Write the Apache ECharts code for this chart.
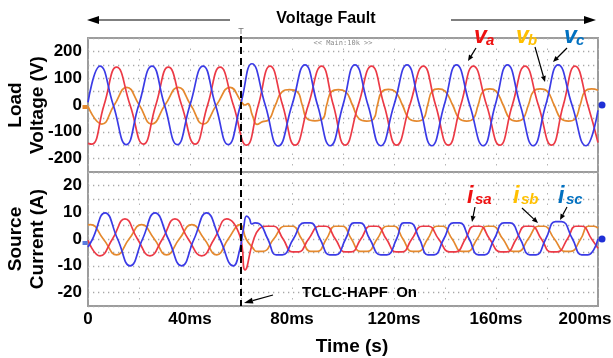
<!DOCTYPE html>
<html>
<head>
<meta charset="utf-8">
<script src="https://cdn.jsdelivr.net/npm/echarts@6/dist/echarts.min.js"></script>
<style>
  html, body { margin: 0; padding: 0; background: #fff; }
  #chart { width: 613px; height: 358px; }
</style>
</head>
<body>
<div id="chart"></div>
<script>
// Time base in ms; one division = 20 ms (one 50 Hz cycle)
const timeTicks = [0, 40, 80, 120, 160, 200];
const voltTicks = [-200, -100, 0, 100, 200];
const currTicks = [-20, -10, 0, 10, 20];
const faultTime = 60; // TCLC-HAPF switched on

// Load voltages, [time ms, volts]
const vaLoad = [
  [0,-143],[1.4,-146],[6.3,0],[11.2,141],[16.5,0],[21.7,-146],[26.6,0],[31.5,141],[36.7,0],[42,-146],
  [46.9,0],[51.8,141],[57,0],[62.2,-150],[66.8,0],[71.4,145],[76.3,0],[81.2,-150],[86.4,0],[91.6,145],
  [96.2,0],[100.8,-150],[106,0],[111.2,145],[116.1,0],[121,-150],[126.2,0],[131.5,145],[136.3,0],[141.3,-150],
  [146.2,0],[151.1,145],[156.3,0],[161.5,-150],[166.4,0],[171.4,145],[176.6,0],[181.8,-150],[186.4,0],[191,145],
  [196,0],[200,-140]
];
const vbLoad = [
  [0,-5],[5.4,-71],[10.3,0],[15.2,66],[20.1,0],[25,-71],[30.2,0],[35.4,66],[40.3,0],[45.2,-71],
  [50.4,0],[55.7,66],[60.3,10],[61.5,0],[62.7,5],[64.5,-40],[66.3,-72],[68.5,-62],[70.5,-58],[73.5,0],
  [76,48],[79,57],[82,50],[84,0],[86,-52],[89,-59],[92,-52],[93.6,0],[95.5,50],[98.2,57],
  [101,50],[103.7,0],[106.3,-52],[109.3,-60],[112,-52],[113.5,0],[115.3,50],[117.8,58],[120.5,50],[123.3,0],
  [126,-52],[128.9,-60],[131.5,-52],[133.2,0],[135,52],[137.4,60],[140,52],[143,0],[145.7,-52],[148.5,-60],
  [151,-52],[153,0],[155,52],[157.6,60],[160,52],[162.8,0],[165.5,-52],[168.1,-60],[170.5,-52],[172.7,0],
  [174.8,52],[177.3,60],[180,52],[182.8,0],[185.6,-52],[188.4,-60],[191,-52],[193,0],[195,52],[197.5,60],
  [200,55]
];
const vcLoad = [
  [0,10],[4.7,145],[9.9,0],[15,-148],[19.9,0],[25.1,145],[30,0],[35,-148],[40,0],[45.1,145],
  [50,0],[55,-148],[59.8,0],[64.3,154],[69.5,0],[74.6,-153],[80,0],[85.1,150],[90,0],[95,-152],
  [100,0],[104.7,150],[109.8,0],[114.8,-152],[120,0],[125.1,150],[130,0],[134.8,-152],[139.7,0],[144.5,150],
  [149.7,0],[155,-152],[159.7,0],[164.5,150],[169.5,0],[174.6,-152],[179.5,0],[184.4,150],[189.8,0],[195.3,-152],
  [200,-20]
];

// Source currents, [time ms, amps]
const isaSrc = [
  [0,-0.5],[4.7,-6.3],[9.6,0],[14.5,7.5],[19.4,0],[24.3,-6.3],[29.2,0],[34.1,7.5],[39.3,0],[44.6,-6.3],
  [49.5,0],[54.4,7.5],[59.6,1],[61.6,-11.5],[64.7,-1],[67.3,4],[69.8,4.75],[72.7,4.75],[76.5,0],[80.1,-4.8],
  [82.5,-4.8],[86.5,0],[90.8,4.75],[93.2,4.75],[97,0],[100.8,-4.8],[103.2,-4.8],[107,0],[110.8,4.75],[113.2,4.75],
  [117,0],[120.8,-4.8],[123.2,-4.8],[127,0],[131.1,4.75],[133.5,4.75],[137.5,0],[141.8,-4.8],[144.2,-4.8],[148,0],
  [151.3,4.75],[153.7,4.75],[157.5,0],[161.8,-4.8],[164.2,-4.8],[168,0],[171.5,4.75],[173.9,4.75],[177.8,0],[181.6,-4.8],
  [184,-4.8],[188,0],[191.3,4.75],[193.7,4.75],[197.5,0],[200,-3.5]
];
const isbSrc = [
  [0,5.3],[1,5.4],[6,0],[11.2,-5.9],[16.1,0],[21,5.4],[26,0],[30.8,-5.9],[35.8,0],[40.7,5.4],
  [45.6,0],[50.5,-5.9],[55,0],[59.6,5.4],[62,0],[64.7,-3.4],[66,-4.6],[68.6,-4.6],[72.8,0],[77.3,4.75],
  [80.1,4.75],[83.8,0],[87.3,-4.6],[89.9,-4.6],[93.5,0],[97,4.75],[99.7,4.75],[103.3,0],[106.8,-4.6],[109.5,-4.6],
  [113.4,0],[117.3,4.75],[120,4.75],[123.5,0],[127.1,-4.6],[129.5,-4.6],[133.2,0],[136.8,4.75],[139,4.75],[142.8,0],
  [146.6,-4.6],[148.8,-4.6],[152.6,0],[156.4,4.75],[158.6,4.75],[162.7,0],[166.7,-4.6],[168.8,-4.6],[172.6,0],[176.7,4.75],
  [178.8,4.75],[182.9,0],[187.1,-4.6],[189.3,-4.6],[193.2,0],[196.2,4.75],[198.4,4.75],[200,4]
];
const iscSrc = [
  [0,-3],[1.8,0],[6.7,9.75],[11.6,0],[16.5,-10],[21.4,0],[26.3,9.75],[31.5,0],[36.7,-10],[41.6,0],
  [46.5,9.75],[51.7,0],[57,-10],[59.5,-4],[61,4],[62.2,8.5],[63.3,7.6],[64.2,5.6],[65.5,6],[67,5.8],
  [70.5,0],[73.8,-5.9],[76.2,-5.9],[80.5,0],[84.8,6],[87.2,6],[91,0],[94.8,-5.9],[97.2,-5.9],[101,0],
  [104.3,6],[106.7,6],[110.5,0],[114.8,-5.9],[117.2,-5.9],[121,0],[123.8,6],[126.2,6],[130,0],[133.3,-5.9],
  [135.7,-5.9],[139.5,0],[143.3,6],[145.7,6],[149.5,0],[153.1,-5.9],[155.5,-5.9],[159.3,0],[163.1,6],[165.5,6],
  [169.5,0],[173.3,-5.9],[175.7,-5.9],[179.5,0],[183.3,6.5],[185.7,6.5],[190,0],[193.6,-5.9],[196,-5.9],[200,0]
];

const FONT = '"Liberation Sans", Arial, Helvetica, sans-serif';
const RED = '#ec3a46', ORANGE = '#e5892e', BLUE = '#3b3be6';

const chart = echarts.init(document.getElementById('chart'), null, { renderer: 'canvas' });

function xAxisCfg(gi, withLabels) {
  return {
    type: 'value', gridIndex: gi, min: 0, max: 200, interval: 20,
    axisLine: { show: false }, axisTick: { show: false },
    splitLine: { show: true, lineStyle: { color: '#b5b5b5', width: 1, type: [1.5, 9] } },
    axisLabel: withLabels ? {
      show: true, margin: 5, color: '#000', fontFamily: FONT, fontWeight: 'bold', fontSize: 17,
      formatter: v => {
        if (!timeTicks.includes(v)) return '';
        if (v === 0) return '0';
        if (v === 200) return '{last|' + v + 'ms}';
        return v + 'ms';
      },
      rich: { last: { fontFamily: FONT, fontWeight: 'bold', fontSize: 17, color: '#000', padding: [0, 26, 4, 0] } }
    } : { show: false },
    name: withLabels ? 'Time (s)' : '',
    nameLocation: 'middle', nameGap: 31, nameMoveOverlap: false,
    nameTextStyle: { color: '#000', fontFamily: FONT, fontWeight: 'bold', fontSize: 19, padding: [0, 0, 0, 18] }
  };
}

function yAxisCfg(gi, lim, step, ticks, name) {
  return {
    type: 'value', gridIndex: gi, min: -lim, max: lim, interval: step,
    axisLine: { show: false }, axisTick: { show: false },
    splitLine: { show: true, lineStyle: { color: '#a8a8a8', width: 1.3, type: [1.3, 3.7] } },
    axisLabel: {
      margin: 6, color: '#000', fontFamily: FONT, fontWeight: 'bold', fontSize: 17,
      formatter: v => ticks.includes(v) ? String(v) : ''
    },
    name, nameLocation: 'middle', nameRotate: 90, nameGap: 39, nameMoveOverlap: false,
    nameTextStyle: { color: '#000', fontFamily: FONT, fontWeight: 'bold', fontSize: 19, lineHeight: 22 }
  };
}

function wave(name, data, color, gi, z, marks) {
  const s = {
    name, type: 'line', xAxisIndex: gi, yAxisIndex: gi, data,
    smooth: 0.5, showSymbol: false, symbol: 'none', z,
    lineStyle: { color, width: 1.7 }, itemStyle: { color }
  };
  if (marks) s.markPoint = { silent: true, label: { show: false }, data: marks };
  return s;
}

// channel reference markers on the zero level
const rightRef = { coord: [200, 0], symbol: 'circle', symbolSize: 7, symbolOffset: [4, 0], itemStyle: { color: '#1f2fd6' } };
const leftRefOrange = { coord: [0, 0], symbol: 'rect', symbolSize: [5, 4], symbolOffset: [-3, 2], itemStyle: { color: ORANGE } };
const leftRefBlue = { coord: [0, 0], symbol: 'rect', symbolSize: [5, 4], symbolOffset: [-3, 4], itemStyle: { color: '#5a7ae0' } };

function arrow(x1, y1, x2, y2, len, w, lw) {
  const a = Math.atan2(y2 - y1, x2 - x1);
  const bx = x2 - len * Math.cos(a), by = y2 - len * Math.sin(a);
  const px = -Math.sin(a) * w / 2, py = Math.cos(a) * w / 2;
  return [
    { type: 'line', z: 50, shape: { x1, y1, x2: bx, y2: by }, style: { stroke: '#000', lineWidth: lw } },
    { type: 'polygon', z: 50, shape: { points: [[x2, y2], [bx + px, by + py], [bx - px, by - py]] }, style: { fill: '#000' } }
  ];
}

function txt(x, y, text, size, color, opts) {
  return Object.assign({
    type: 'text', x, y, z: 60,
    style: Object.assign({
      text, fill: color, fontFamily: FONT, fontWeight: 'bold', fontSize: size,
      align: 'left', verticalAlign: 'middle'
    }, (opts && opts.style) || {})
  }, (opts && opts.el) || {});
}
const it = { style: { fontStyle: 'italic' } };

const labels = [
  txt(326, 19, 'Voltage Fault', 16, '#000', { style: { align: 'center' } }),
  ...arrow(230, 20, 87, 20, 12, 8, 1.2),
  ...arrow(451, 20, 596, 20, 12, 8, 1.2),
  { type: 'text', x: 343, y: 43, z: 40, style: { text: '<< Main:10k >>', fill: '#8a8a8a', fontFamily: '"DejaVu Sans Mono", monospace', fontSize: 7, align: 'center', verticalAlign: 'middle' } },
  { type: 'text', x: 241, y: 32, z: 40, style: { text: 'T', fill: '#777', fontFamily: FONT, fontSize: 9, align: 'center', verticalAlign: 'middle' } },
  // phase voltage tags
  txt(474, 37, 'v', 23, '#ee1111', it), txt(486, 41, 'a', 15, '#ee1111', it),
  txt(516, 37, 'v', 23, '#ffc000', it), txt(528, 41, 'b', 15, '#ffc000', it),
  txt(564, 37, 'v', 23, '#0070c0', it), txt(576, 41, 'c', 15, '#0070c0', it),
  ...arrow(476, 48, 468, 61, 6, 5, 1.2),
  ...arrow(535, 47, 545, 82, 6, 5, 1.2),
  ...arrow(567, 48, 553, 62, 6, 5, 1.2),
  // source current tags
  txt(467, 197, 'i', 23, '#ee1111', it), txt(475, 200, 'sa', 15, '#ee1111', it),
  txt(513, 197, 'i', 23, '#ffc000', it), txt(521, 200, 'sb', 15, '#ffc000', it),
  txt(558, 197, 'i', 23, '#0070c0', it), txt(566, 200, 'sc', 15, '#0070c0', it),
  ...arrow(475, 207, 472, 222, 6, 5, 1.2),
  ...arrow(522, 208, 538, 223, 6, 5, 1.2),
  ...arrow(567, 207, 560, 220, 6, 5, 1.2),
  // switching annotation
  txt(302, 293, 'TCLC-HAPF  On', 15, '#000'),
  ...arrow(273, 295, 244, 303, 9, 6, 1.2)
];

chart.setOption({
  animation: false,
  backgroundColor: '#fff',
  grid: [
    { left: 88, top: 38, width: 510, height: 134, outerBoundsMode: 'none', containLabel: false, show: true, borderColor: '#9c9c9c', borderWidth: 2, backgroundColor: '#fff' },
    { left: 88, top: 172, width: 510, height: 134, outerBoundsMode: 'none', containLabel: false, show: true, borderColor: '#9c9c9c', borderWidth: 2, backgroundColor: '#fff' }
  ],
  xAxis: [xAxisCfg(0, false), xAxisCfg(1, true)],
  yAxis: [
    yAxisCfg(0, 250, 50, voltTicks, 'Load\nVoltage (V)'),
    yAxisCfg(1, 25, 5, currTicks, 'Source\nCurrent (A)')
  ],
  series: [
    wave('vb', vbLoad, ORANGE, 0, 3, [leftRefOrange]),
    wave('va', vaLoad, RED, 0, 4),
    wave('vc', vcLoad, BLUE, 0, 5, [rightRef]),
    wave('isb', isbSrc, ORANGE, 1, 3),
    wave('isa', isaSrc, RED, 1, 4),
    wave('isc', iscSrc, BLUE, 1, 5, [rightRef, leftRefBlue])
  ],
  graphic: labels
});

// dashed marker at the switching instant, spanning both panels
const xs = chart.convertToPixel({ gridIndex: 0 }, [faultTime, 0])[0];
const yBottom = chart.convertToPixel({ gridIndex: 1 }, [0, -25])[1];
chart.setOption({
  graphic: labels.concat([{
    type: 'line', z: 70, shape: { x1: xs, y1: 36, x2: xs, y2: yBottom },
    style: { stroke: '#000', lineWidth: 2, lineDash: [7, 4] }
  }])
});
</script>
</body>
</html>
